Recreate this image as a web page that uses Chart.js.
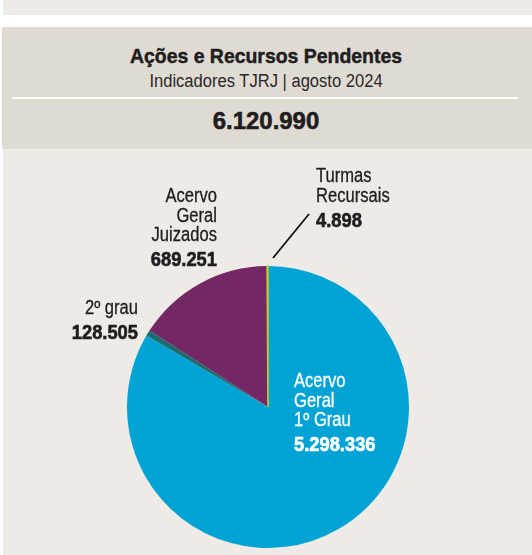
<!DOCTYPE html>
<html lang="pt-BR">
<head>
<meta charset="utf-8">
<script src="https://cdn.jsdelivr.net/npm/chart.js@4.4.1/dist/chart.umd.min.js"></script>
<style>
  html, body { margin: 0; padding: 0; background: #fff; }
  body {
    width: 532px; height: 555px; position: relative; overflow: hidden;
    font-family: 'Liberation Sans', Arial, sans-serif;
    color: #1f1d1e;
  }
  .band { position: absolute; left: 3px; top: 0; width: 529px; height: 15px; background: #eeebe6; }
  .header { position: absolute; left: 2px; top: 27px; width: 530px; height: 122px; background: #e0dbd2; }
  .header div { position: absolute; left: 0; width: 528px; text-align: center; line-height: 1; white-space: nowrap; transform-origin: 50% 50%; }
  /* the original face is a heavy condensed sans; squeeze a normal one to match */
  .title { top: 17.5px; font-size: 21px; font-weight: bold; transform: scaleX(0.925); -webkit-text-stroke: 0.5px #1f1d1e; }
  .subtitle { top: 45px; font-size: 18px; transform: scaleX(0.92); color: #2a2728; }
  .rule { top: 70px; left: 10px !important; width: 506px !important; height: 2px; background: #fff; }
  .total { top: 82px; font-size: 24.7px; font-weight: bold; transform: scaleX(0.97); -webkit-text-stroke: 0.6px #1f1d1e; }
  #wrap { position: absolute; left: 3px; top: 149px; width: 529px; height: 406px; background: #eeebe6; }
</style>
</head>
<body>
<div class="band"></div>
<div class="header">
  <div class="title">Ações e Recursos Pendentes</div>
  <div class="subtitle">Indicadores TJRJ | agosto 2024</div>
  <div class="rule"></div>
  <div class="total" id="total"></div>
</div>
<div id="wrap"><canvas id="pie" width="529" height="406"></canvas></div>
<script>
// slices, clockwise from 12 o'clock
const categories = ['Acervo Geral 1º Grau', '2º grau', 'Acervo Geral Juizados', 'Turmas Recursais'];
// numbers printed on the infographic
const printedValues = [5298336, 128505, 689251, 4898];
const totalValue = 6120990;
// share of the circle each slice takes in the drawing, % (the original is not drawn to scale)
const drawnShare = [83.45, 0.67, 15.78, 0.10];

const sliceColors = ['#00a3d4', '#1d6b6c', '#732764', '#c3c92b'];
const labelFont = "'Liberation Sans', Arial, sans-serif";

function fmt(n) {
  return String(n).replace(/\B(?=(\d{3})+(?!\d))/g, '.');
}

document.getElementById('total').textContent = fmt(totalValue);

// label blocks: text lines + the printed number, placed relative to the pie centre
const labelBlocks = [
  { i: 0, lines: ['Acervo', 'Geral', '1º Grau'], dx: 26, dy: -20, align: 'left', color: '#fff' },
  { i: 1, lines: ['2º grau'], dx: -130, dy: -93, align: 'right', color: '#1f1d1e' },
  { i: 2, lines: ['Acervo', 'Geral', 'Juizados'], dx: -51, dy: -205, align: 'right', color: '#1f1d1e' },
  { i: 3, lines: ['Turmas', 'Recursais'], dx: 48, dy: -225, align: 'left', color: '#1f1d1e' }
];

function squeezedText(ctx, text, x, y, align, sx, stroke) {
  ctx.save();
  ctx.translate(x, y);
  ctx.scale(sx, 1);
  ctx.textAlign = align;
  ctx.fillText(text, 0, 0);
  if (stroke) {
    ctx.lineWidth = stroke;
    ctx.strokeText(text, 0, 0);
  }
  ctx.restore();
}

const pieLabels = {
  id: 'pieLabels',
  afterDatasetsDraw(chart) {
    const ctx = chart.ctx;
    const arc = chart.getDatasetMeta(0).data[0];
    const cx = arc.x, cy = arc.y;
    ctx.save();
    // leader line for Turmas Recursais
    ctx.strokeStyle = '#111';
    ctx.lineWidth = 1.8;
    ctx.beginPath();
    ctx.moveTo(cx + 41, cy - 193);
    ctx.lineTo(cx + 5, cy - 149);
    ctx.stroke();

    ctx.textBaseline = 'alphabetic';
    labelBlocks.forEach(b => {
      ctx.fillStyle = b.color;
      ctx.strokeStyle = b.color;
      let y = cy + b.dy;
      ctx.font = '19.5px ' + labelFont;
      b.lines.forEach(t => {
        squeezedText(ctx, t, cx + b.dx, y, b.align, 0.85, 0.3);
        y += 19.5;
      });
      y += 5.5;
      ctx.font = 'bold 19.5px ' + labelFont;
      squeezedText(ctx, fmt(printedValues[b.i]), cx + b.dx, y, b.align, 0.94, 0.6);
    });
    ctx.restore();
  }
};

new Chart(document.getElementById('pie'), {
  type: 'pie',
  data: {
    labels: categories,
    datasets: [{
      data: drawnShare,
      backgroundColor: sliceColors,
      borderColor: sliceColors,
      borderWidth: [0, 0, 0, 1.6],
      radius: 141
    }]
  },
  options: {
    responsive: false,
    animation: false,
    devicePixelRatio: 1,
    layout: { padding: { top: 110, left: 1, right: 0, bottom: 0 } },
    plugins: {
      legend: { display: false },
      tooltip: { enabled: false }
    }
  },
  plugins: [pieLabels]
});
</script>
</body>
</html>
